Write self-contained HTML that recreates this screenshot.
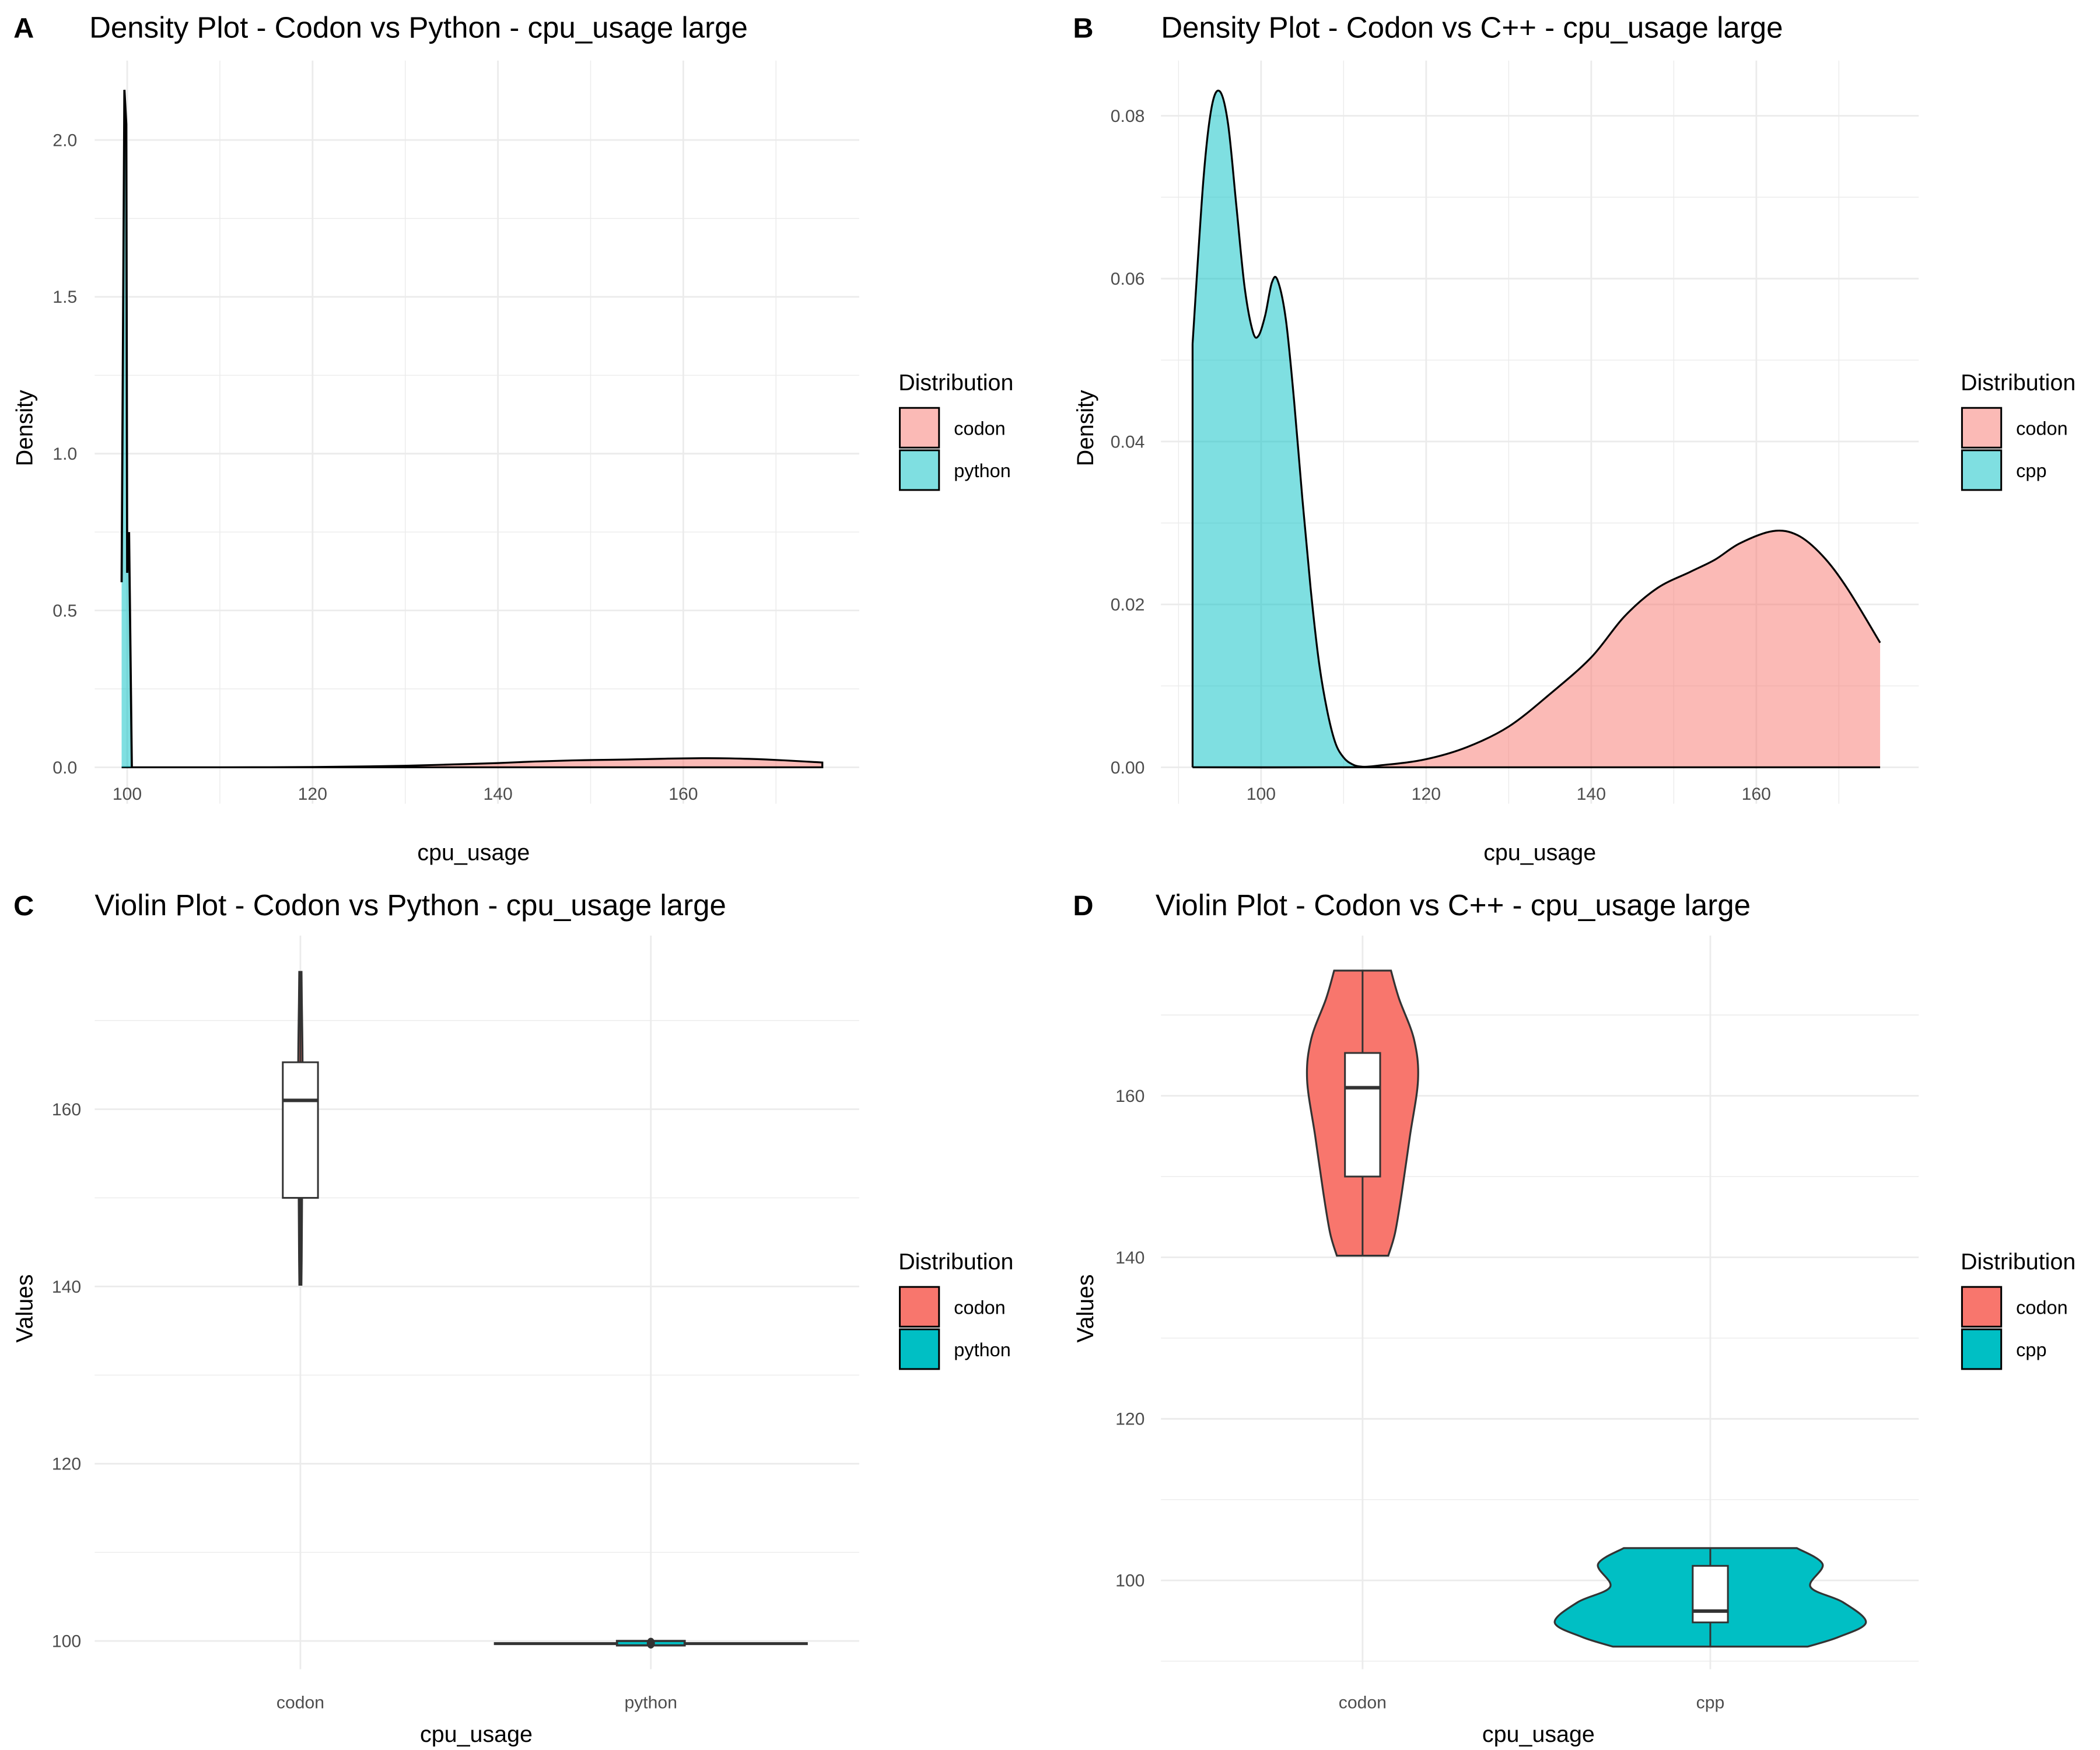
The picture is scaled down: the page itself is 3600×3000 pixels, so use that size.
<!DOCTYPE html>
<html><head><meta charset="utf-8">
<style>
html,body{margin:0;padding:0;background:#fff;}
svg{display:block;font-family:"Liberation Sans",sans-serif;}
.tick{fill:#4D4D4D;font-size:13px;}
.axt{fill:#000;font-size:17px;}
.ttl{fill:#000;font-size:22px;}
.tag{fill:#000;font-size:21px;font-weight:bold;}
.lg{fill:#000;font-size:14px;}
.lgt{fill:#000;font-size:17px;}
</style></head>
<body>
<svg id="fig" width="3600" height="3000" viewBox="0 0 1552 1300" preserveAspectRatio="none" xmlns="http://www.w3.org/2000/svg"></svg>
<script>
// ---- data ----
const densA_pyX = [99.4, 99.7, 99.9, 100.0, 100.2, 100.5];
const densA_pyY = [0.59, 2.16, 2.05, 0.62, 0.75, 0.0];
const densCodonX = [99.4, 110, 115, 120, 125, 130, 135, 140, 144, 148, 152, 155, 158, 162, 165, 168, 171, 175];
const densCodonY = [0, 0, 0.0003, 0.001, 0.0025, 0.005, 0.009, 0.0135, 0.0185, 0.022, 0.024, 0.0255, 0.0275, 0.029, 0.0285, 0.026, 0.022, 0.0153];
const densCodonXB = [91.7, 110, 115, 120, 125, 130, 135, 140, 144, 148, 152, 155, 158, 162, 165, 168, 171, 175];
const densCppX = [91.7, 93, 94, 95, 96, 97, 98, 99, 99.7, 100.5, 101.3, 102, 103, 104, 105, 106, 107, 108, 109, 110, 111, 112, 114];
const densCppY = [0.052, 0.072, 0.081, 0.083, 0.079, 0.069, 0.059, 0.0535, 0.053, 0.0555, 0.0595, 0.0598, 0.055, 0.045, 0.033, 0.022, 0.013, 0.007, 0.003, 0.0012, 0.0004, 0.0001, 0];
const violinCodonV = [140.2, 143, 148, 155, 162, 167, 172, 175.5];
const violinCodonW = [19, 24, 29, 35, 41, 38, 27, 21];
const violinCppV = [91.8, 93.0, 94.8, 97.3, 99.2, 102, 104];
const violinCppW = [72, 95, 115, 98, 74, 83, 64];
const boxCodon = [150, 161, 165.3, 140.2, 175.5]; // q1, median, q3, min, max
const boxCpp = [94.8, 96.2, 101.8, 91.8, 104];
const boxPy = [99.5, 99.75, 100.0, 99.6, 99.8];

const NS = "http://www.w3.org/2000/svg";
const svg = document.getElementById("fig");
function el(tag, attrs, parent, text) {
  const e = document.createElementNS(NS, tag);
  for (const k in attrs) e.setAttribute(k, attrs[k]);
  if (text !== undefined) e.textContent = text;
  (parent || svg).appendChild(e);
  return e;
}
function lin(d0, d1, r0, r1) { return v => r0 + (v - d0) * (r1 - r0) / (d1 - d0); }
// Catmull-Rom smoothing through points (continues an existing path)
function smooth(pts) {
  let d = "";
  for (let i = 0; i < pts.length - 1; i++) {
    const p0 = pts[Math.max(0, i-1)], p1 = pts[i], p2 = pts[i+1], p3 = pts[Math.min(pts.length-1, i+2)];
    const c1 = [p1[0] + (p2[0]-p0[0])/6, p1[1] + (p2[1]-p0[1])/6];
    const c2 = [p2[0] - (p3[0]-p1[0])/6, p2[1] - (p3[1]-p1[1])/6];
    d += ` C${c1[0]},${c1[1]} ${c2[0]},${c2[1]} ${p2[0]},${p2[1]}`;
  }
  return d;
}

function grid(g, x0, x1, y0, y1, xs, ys, minor) {
  for (const x of xs) { const l = el("line", {x1:x, x2:x, y1:y0, y2:y1, stroke:"#EBEBEB", "stroke-width": minor ? 0.6 : 1.2}, g);   }
  for (const y of ys) { const l = el("line", {x1:x0, x2:x1, y1:y, y2:y, stroke:"#EBEBEB", "stroke-width": minor ? 0.6 : 1.2}, g);   }
}
function header(g, tag, title, tagx, tx, ty) {
  const a = el("text", {x:tagx, y:ty, class:"tag"}, g, tag);
  
  
  const t = el("text", {x:tx, y:ty, class:"ttl"}, g, title);
  
  
}
function legend(g, lx, ty, names, fills) {
  const t = el("text", {x:lx, y:ty, class:"lgt"}, g, "Distribution");
  
  
  names.forEach((n, i) => {
    const r = el("rect", {x:lx+1, y:ty+13+i*31.5, width:29, height:29.5, fill:fills[i], stroke:"#000", "stroke-width":1.3}, g);
    
    
    const s = el("text", {x:lx+41, y:ty+33+i*31.5, class:"lg"}, g, n);
    
    
  });
}
function axisTitles(g, xt, xx, xy, yt, yx, yy) {
  const a = el("text", {x:xx, y:xy, class:"axt", "text-anchor":"middle"}, g, xt);
  
  
  const b = el("text", {x:yx, y:yy, class:"axt", "text-anchor":"middle", transform:`rotate(-90 ${yx} ${yy})`}, g, yt);
  
  
}
function curvePts(xs, ys, X, Y) { return xs.map((x, i) => [X(x), Y(ys[i])]); }
function smoothLine(xs, ys, X, Y) { const p = curvePts(xs, ys, X, Y); return `M${p[0][0]},${p[0][1]}` + smooth(p); }
function smoothArea(xs, ys, X, Y) {
  const p = curvePts(xs, ys, X, Y);
  return `M${p[0][0]},${Y(0)} L${p[0][0]},${p[0][1]}` + smooth(p) + ` L${p[p.length-1][0]},${Y(0)} Z`;
}
function areaPath(xs, ys, X, Y) {
  let d = `M${X(xs[0])},${Y(0)}`;
  xs.forEach((x, i) => d += ` L${X(x)},${Y(ys[i])}`);
  return d + ` L${X(xs[xs.length-1])},${Y(0)} Z`;
}
function linePath(xs, ys, X, Y) {
  return xs.map((x, i) => (i ? "L" : "M") + X(x) + "," + Y(ys[i])).join(" ");
}
function violinPath(vs, ws, cx, Y, scale) {
  const left = vs.map((v, i) => [cx - ws[i]*scale, Y(v)]);
  const right = vs.map((v, i) => [cx + ws[i]*scale, Y(v)]).reverse();
  return `M${left[0][0]},${left[0][1]}` + smooth(left) + ` L${right[0][0]},${right[0][1]}` + smooth(right) + " Z";
}
function box(g, b, cx, Y, hw, name) {
  const w1 = el("line", {x1:cx, x2:cx, y1:Y(b[3]), y2:Y(b[0]), stroke:"#333", "stroke-width":1.3}, g);
   
  const w2 = el("line", {x1:cx, x2:cx, y1:Y(b[2]), y2:Y(b[4]), stroke:"#333", "stroke-width":1.3}, g);
   
  const r = el("rect", {x:cx-hw, y:Y(b[2]), width:2*hw, height:Y(b[0])-Y(b[2]), fill:"#fff", stroke:"#333", "stroke-width":1.3}, g);
   
  const m = el("line", {x1:cx-hw, x2:cx+hw, y1:Y(b[1]), y2:Y(b[1]), stroke:"#333", "stroke-width":2.6}, g);
   
}

// ---- Panel A ----
(function(){
  const g = el("g", {});  
  const X = lin(100, 160, 94, 505), Y = lin(0, 2, 570, 104);
  grid(g, 70, 635, 45, 597, [110,130,150,170].map(X), [0.25,0.75,1.25,1.75].map(Y), true);
  grid(g, 70, 635, 45, 597, [100,120,140,160].map(X), [0,0.5,1,1.5,2].map(Y), false);
  const c = el("path", {d:smoothArea(densCodonX, densCodonY, X, Y), fill:"#F8766D", "fill-opacity":0.5, stroke:"#000", "stroke-width":1.4}, g);
   
  const p = el("path", {d:areaPath(densA_pyX, densA_pyY, X, Y), fill:"#00BFC4", "fill-opacity":0.5, stroke:"none"}, g);
   
  const pl = el("path", {d:linePath(densA_pyX, densA_pyY, X, Y), fill:"none", stroke:"#000", "stroke-width":1.6}, g);
   
  [0,0.5,1,1.5,2].forEach(v => { const t = el("text", {x:57, y:Y(v)+4.5, class:"tick", "text-anchor":"end"}, g, v.toFixed(1));   });
  [100,120,140,160].forEach(v => { const t = el("text", {x:X(v), y:594, class:"tick", "text-anchor":"middle"}, g, v);   });
  header(g, "A", "Density Plot - Codon vs Python - cpu_usage large", 10, 66, 28);
  axisTitles(g, "cpu_usage", 350, 639, "Density", 24, 318);
  legend(g, 664, 290, ["codon","python"], ["#FBBAB6","#7FDFE1"]);
})();

// ---- Panel B ----
(function(){
  const g = el("g", {});  
  const X = lin(100, 160, 932, 1298), Y = lin(0, 0.08, 570, 86);
  grid(g, 858, 1418, 45, 597, [90,110,130,150,170].map(X), [0.01,0.03,0.05,0.07].map(Y), true);
  grid(g, 858, 1418, 45, 597, [100,120,140,160].map(X), [0,0.02,0.04,0.06,0.08].map(Y), false);
  const c = el("path", {d:smoothArea(densCodonXB, densCodonY, X, Y), fill:"#F8766D", "fill-opacity":0.5, stroke:"none"}, g);
   
  const cl = el("path", {d:smoothLine(densCodonXB, densCodonY, X, Y), fill:"none", stroke:"#000", "stroke-width":1.4}, g);
   
  const p = el("path", {d:smoothArea(densCppX, densCppY, X, Y), fill:"#00BFC4", "fill-opacity":0.5, stroke:"none"}, g);
   
  const pl = el("path", {d:smoothLine(densCppX, densCppY, X, Y), fill:"none", stroke:"#000", "stroke-width":1.4}, g);
   
  const e1 = el("line", {x1:X(densCppX[0]), x2:X(densCppX[0]), y1:Y(0), y2:Y(densCppY[0]), stroke:"#000", "stroke-width":1.4}, g);
   
  const bl = el("line", {x1:X(91.7), x2:X(175), y1:Y(0), y2:Y(0), stroke:"#000", "stroke-width":1.4}, g);
   
  [0,0.02,0.04,0.06,0.08].forEach(v => { const t = el("text", {x:846, y:Y(v)+4.5, class:"tick", "text-anchor":"end"}, g, v.toFixed(2));   });
  [100,120,140,160].forEach(v => { const t = el("text", {x:X(v), y:594, class:"tick", "text-anchor":"middle"}, g, v);   });
  header(g, "B", "Density Plot - Codon vs C++ - cpu_usage large", 793, 858, 28);
  axisTitles(g, "cpu_usage", 1138, 639, "Density", 808, 318);
  legend(g, 1449, 290, ["codon","cpp"], ["#FBBAB6","#7FDFE1"]);
})();

// ---- Panel C ----
(function(){
  const g = el("g", {});  
  const Y = lin(100, 160, 1219, 824); const cx = [222, 481];
  grid(g, 70, 635, 695, 1240, [], [110,130,150,170].map(Y), true);
  grid(g, 70, 635, 695, 1240, cx, [100,120,140,160].map(Y), false);
  const v1 = el("path", {d:violinPath(violinCodonV, violinCodonW, cx[0], Y, 0.04), fill:"#F8766D", stroke:"#333", "stroke-width":1.4}, g);
   
  box(g, boxCodon, cx[0], Y, 13, "codon");
  const v2 = el("path", {d:`M${cx[1]-116},${Y(99.7)} L${cx[1]+116},${Y(99.7)}`, stroke:"#333", "stroke-width":2.2}, g);
   
  const pb = el("rect", {x:cx[1]-25, y:Y(boxPy[2]), width:50, height:Y(boxPy[0])-Y(boxPy[2]), fill:"#00BFC4", stroke:"#333", "stroke-width":1.6}, g);
   
  const dot = el("ellipse", {cx:cx[1], cy:Y(boxPy[1]), rx:3, ry:4, fill:"#333"}, g);
   
  [100,120,140,160].forEach(v => { const t = el("text", {x:60, y:Y(v)+4.5, class:"tick", "text-anchor":"end"}, g, v);   });
  ["codon","python"].forEach((n, i) => { const t = el("text", {x:cx[i], y:1269, class:"tick", "text-anchor":"middle"}, g, n);   });
  header(g, "C", "Violin Plot - Codon vs Python - cpu_usage large", 10, 70, 680);
  axisTitles(g, "cpu_usage", 352, 1294, "Values", 24, 972);
  legend(g, 664, 943, ["codon","python"], ["#F8766D","#00BFC4"]);
})();

// ---- Panel D ----
(function(){
  const g = el("g", {});  
  const Y = lin(100, 160, 1174, 814); const cx = [1007, 1264];
  grid(g, 858, 1418, 695, 1240, [], [90,110,130,150,170].map(Y), true);
  grid(g, 858, 1418, 695, 1240, cx, [100,120,140,160].map(Y), false);
  const v1 = el("path", {d:violinPath(violinCodonV, violinCodonW, cx[0], Y, 1), fill:"#F8766D", stroke:"#333", "stroke-width":1.4}, g);
   
  box(g, boxCodon, cx[0], Y, 13, "codon");
  const v2 = el("path", {d:violinPath(violinCppV, violinCppW, cx[1], Y, 1), fill:"#00BFC4", stroke:"#333", "stroke-width":1.4, "stroke-linejoin":"round"}, g);
   
  box(g, boxCpp, cx[1], Y, 13, "cpp");
  [100,120,140,160].forEach(v => { const t = el("text", {x:846, y:Y(v)+4.5, class:"tick", "text-anchor":"end"}, g, v);   });
  ["codon","cpp"].forEach((n, i) => { const t = el("text", {x:cx[i], y:1269, class:"tick", "text-anchor":"middle"}, g, n);   });
  header(g, "D", "Violin Plot - Codon vs C++ - cpu_usage large", 793, 854, 680);
  axisTitles(g, "cpu_usage", 1137, 1294, "Values", 808, 972);
  legend(g, 1449, 943, ["codon","cpp"], ["#F8766D","#00BFC4"]);
})();
</script>
</body></html>
